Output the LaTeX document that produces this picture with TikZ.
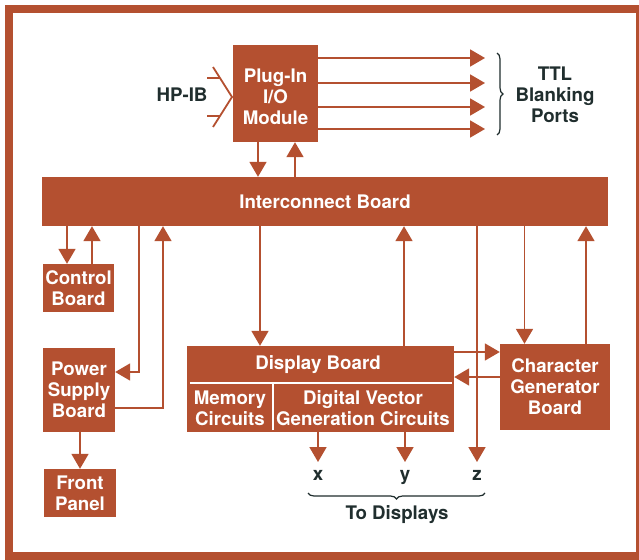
\documentclass[tikz,border=0pt]{standalone}
\usepackage{fontspec}
\setmainfont{TeX Gyre Heros}
\usetikzlibrary{arrows.meta,decorations.pathreplacing,calc}
\definecolor{rust}{RGB}{180,80,48}
\definecolor{ink}{RGB}{32,46,46}
\tikzstyle{board}=[rectangle,fill=rust,inner sep=0pt,text=white,align=center,anchor=center,font=\bfseries\fontsize{18.7}{21}\selectfont]
\tikzstyle{annot}=[align=center,text=ink,font=\bfseries\fontsize{18.7}{21}\selectfont]
\tikzstyle{sig}=[annot,inner sep=0pt,text height=9pt,text depth=3pt,outer ysep=9pt]
\tikzstyle{wire}=[draw=rust,line width=1.8pt]
\tikzstyle{arr}=[wire,-{Triangle[length=15pt,width=17pt]}]
\tikzstyle{brc}=[draw=ink,line width=1.2pt,decorate,decoration={brace,amplitude=6pt}]
\begin{document}
\begin{tikzpicture}[x=1pt,y=-1pt]
	\useasboundingbox (0,0) rectangle (639,559);
	\fill[white] (0,0) rectangle (639,559);
	\draw[rust,line width=8pt] (9,9) rectangle (640,556);

	% boards
	\node[board, minimum width=85pt, minimum height=97pt](pim) at (275.5,93.5){};
	\node[board, fill=none](pimtext) at (275.5,97){Plug-In\\I/O\\Module};
	\node[board, minimum width=566pt, minimum height=49pt](ic) at (325,201.5){Interconnect Board};
	\node[board, minimum width=71pt, minimum height=48pt](ctrl) at (78.5,288){Control\\Board};
	\node[board, minimum width=72pt, minimum height=84pt](psb) at (79,390){Power\\Supply\\Board};
	\node[board, minimum width=72pt, minimum height=48pt](fp) at (80,493){Front\\Panel};
	\node[board, minimum width=267pt, minimum height=86pt](disp) at (320.5,389){};
	\node[board, minimum width=110pt, minimum height=86pt](cgb) at (555,387){Character\\Generator\\Board};

	% inside the display board
	\node[board, fill=none](dtitle) at (318,365){Display Board};
	\node[board, fill=none](mem) at (230,408){Memory\\Circuits};
	\node[board, fill=none](dvg) at (363,408){Digital Vector\\Generation Circuits};
	\draw[white,line width=1.5pt] ($(disp.west)+(3,-6)$) -- ($(disp.east)+(-2,-6)$);
	\draw[white,line width=1.5pt] ($(disp.south west)+(86,-2)$) -- ($(disp.south west)+(86,-49)$);

	% HP-IB input
	\node[annot](hpib) at (182,95){HP-IB};
	\draw[wire] (213,67) -- (232,97) -- (213,127);
	\draw[wire] (207,78) -- (220,78);
	\draw[wire] (207,116) -- (220,116);

	% blanking ports
	\coordinate (t1) at (485,58);
	\coordinate (t2) at (485,83);
	\coordinate (t3) at (485,107);
	\coordinate (t4) at (485,129);
	\foreach \t in {t1,t2,t3,t4}
		\draw[arr] (pim.east |- \t) -- (\t);
	\coordinate (bt) at (497,53);
	\coordinate (bb) at (497,135);
	\draw[brc] (bt) -- (bb);
	\node[annot](ttl) at (555,95){TTL\\Blanking\\Ports};

	% module <-> interconnect
	\draw[arr] ([xshift=-17.5pt]pim.south) -- ([xshift=-17.5pt]pim.south |- ic.north);
	\draw[arr] ([xshift=19.5pt]pim.south |- ic.north) -- ([xshift=19.5pt]pim.south);

	% left column
	\draw[arr] ([xshift=-11.5pt]ctrl.north |- ic.south) -- ([xshift=-11.5pt]ctrl.north);
	\draw[arr] ([xshift=13.5pt]ctrl.north) -- ([xshift=13.5pt]ctrl.north |- ic.south);
	\draw[arr] ([xshift=-186pt]ic.south) |- ([yshift=18pt]psb.east);
	\draw[arr] ([yshift=-18pt]psb.east) -| ([xshift=-162pt]ic.south);
	\draw[arr] (fp.north |- psb.south) -- (fp.north);

	% display and character generator
	\draw[arr] ([xshift=-60.5pt]disp.north |- ic.south) -- ([xshift=-60.5pt]disp.north);
	\draw[arr] ([xshift=83.5pt]disp.north) -- ([xshift=83.5pt]disp.north |- ic.south);
	\draw[arr] ([xshift=-30.5pt]cgb.north |- ic.south) -- ([xshift=-30.5pt]cgb.north);
	\draw[arr] ([xshift=31pt]cgb.north) -- ([xshift=31pt]cgb.north |- ic.south);
	\draw[arr] ([yshift=37pt]disp.east) -- ([yshift=37pt]disp.east -| cgb.west);
	\draw[arr] ([yshift=12pt]disp.east -| cgb.west) -- ([yshift=12pt]disp.east);

	% outputs to displays
	\node[sig](xs) at (318,477){x};
	\node[sig](ys) at (405,477){y};
	\node[sig](zs) at (477,477){z};
	\draw[arr] (xs.north |- disp.south) -- (xs.north);
	\draw[arr] (ys.north |- disp.south) -- (ys.north);
	\draw[arr] (zs.north |- ic.south) -- (zs.north);
	\coordinate (dl) at (308,493);
	\coordinate (dr) at (485,493);
	\draw[brc] (dr) -- (dl);
	\node[annot](todisp) at (397,515){To Displays};
\end{tikzpicture}
\end{document}
